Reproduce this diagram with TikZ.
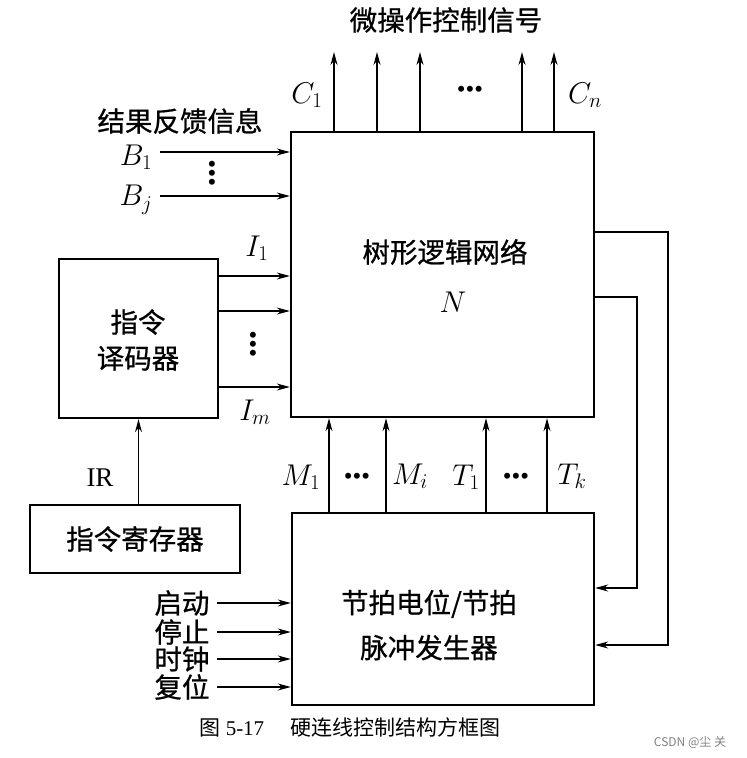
\RequirePackage{fix-cm}
\documentclass[tikz,border=0pt]{standalone}
\usepackage{fontspec}
\setmainfont{Liberation Serif}
\newfontfamily\cjk{Noto Sans CJK SC}[FakeBold=0.8]
\newfontfamily\cjkl{Noto Sans CJK SC}
\newcommand\dotsfont{\fontsize{25}{9}\selectfont\lineskiplimit=-50pt\relax}
\usetikzlibrary{arrows.meta,calc}

\begin{document}
\begin{tikzpicture}[x=1pt, y=-1pt, >={Stealth[length=13pt,width=7pt]},
    box/.style={draw, line width=2.4pt, inner sep=0pt},
    sig/.style={->, line width=1.2pt},
    cn/.style={font=\cjk\fontsize{27.5}{36}\selectfont, align=center},
    lb/.style={font=\fontsize{30}{30}\selectfont},
    hdots/.style={font=\fontsize{25}{25}\selectfont, inner sep=0pt},
    vdots/.style={font=\dotsfont, align=center, inner sep=0pt}]
  \useasboundingbox (0,0) rectangle (747,758);
  %% Boxes
  \node[box, minimum width=303, minimum height=285] (nw)  at (442.5,274.5) {};
  \node[box, minimum width=159, minimum height=159] (dec) at (138.5,338.5) {};
  \node[box, minimum width=210, minimum height=68, cn] (ir) at (135,539)
    {指令寄存器};
  \node[box, minimum width=302, minimum height=192] (tg)  at (443,609) {};
  %% Box texts
  \node[cn] (nwt)  at (445,252) {树形逻辑网络};
  \node[lb] (nwn)  at (453,302) {$N$};
  \node[cn] (dect) at (138,340) {指令\\译码器};
  \node[cn, font=\cjk\fontsize{27.5}{45}\selectfont] (tgt) at (429,625)
    {节拍电位/节拍\\脉冲发生器};
  %% Micro-operation outputs
  \node[cn] (title) at (446,20) {微操作控制信号};
  \foreach \x [count=\i] in {334,377,420,522,554}{
    \coordinate (c\i) at (\x,52);
    \draw[sig] (c\i |- nw.north) -- (c\i);
  }
  \node[lb]    (lc1) at (307,95) {$C_1$};
  \node[hdots] (ldc) at (470,92) {•••};
  \node[lb]    (lcn) at (585,95) {$C_n$};
  %% Feedback inputs
  \node[cn] (fbt) at (180,121) {结果反馈信息};
  \coordinate (b1) at (160,152);
  \coordinate (bj) at (160,196);
  \draw[sig] (b1) -- (b1 -| nw.west);
  \draw[sig] (bj) -- (bj -| nw.west);
  \node[lb]    (lb1) at (136,157) {$B_1$};
  \node[lb]    (lbj) at (136,200) {$B_j$};
  \node[vdots] (ldb) at (212,176) {•\\•\\•};
  %% Decoder outputs
  \foreach \y [count=\i] in {276,311,387}{
    \coordinate (i\i) at (0,\y);
    \draw[sig] (dec.east |- i\i) -- (nw.west |- i\i);
  }
  \node[lb]    (li1) at (257,248) {$I_1$};
  \node[vdots] (ldi) at (253,347) {•\\•\\•};
  \node[lb]    (lim) at (255,412) {$I_m$};
  %% IR
  \draw[sig] (ir.north -| dec.south) -- (dec.south);
  \node[font=\fontsize{27}{28}\selectfont] (lir) at (100,478) {IR};
  %% Timing outputs
  \foreach \x [count=\i] in {329,386,486,547}{
    \coordinate (m\i) at (\x,0);
    \draw[sig] (m\i |- tg.north) -- (m\i |- nw.south);
  }
  \node[lb]    (lm1) at (301,477) {$M_1$};
  \node[hdots] (ldm) at (357,479) {•••};
  \node[lb]    (lmi) at (410,476) {$M_i$};
  \node[lb]    (lt1) at (466,477) {$T_1$};
  \node[hdots] (ldt) at (516,479) {•••};
  \node[lb]    (ltk) at (572,476) {$T_k$};
  %% Control inputs
  \foreach \y/\t [count=\i] in {603/启动,632/停止,659/时钟,687/复位}{
    \node[cn] (in\i) at (182,\y) {\t};
    \draw[sig] (217,\y) -- (tg.west |- in\i);
  }
  %% Feedback loops
  \coordinate (fa) at (668,232);
  \coordinate (fb) at (668,645);
  \coordinate (ga) at (637,297);
  \coordinate (gb) at (637,588);
  \draw[sig] (nw.east |- fa) -- (fa) -- (fb) -- (tg.east |- fb);
  \draw[sig] (nw.east |- ga) -- (ga) -- (gb) -- (tg.east |- gb);
  %% Caption
  \node[font=\fontsize{21}{24}\selectfont] (cap) at (350,727)
    {{\cjkl 图}\ 5-17\quad\ {\cjkl 硬连线控制结构方框图}};
  \node[font=\cjkl\fontsize{12}{14}\selectfont, text=gray] (wm) at (690,743)
    {CSDN @尘 关};
\end{tikzpicture}
\end{document}
